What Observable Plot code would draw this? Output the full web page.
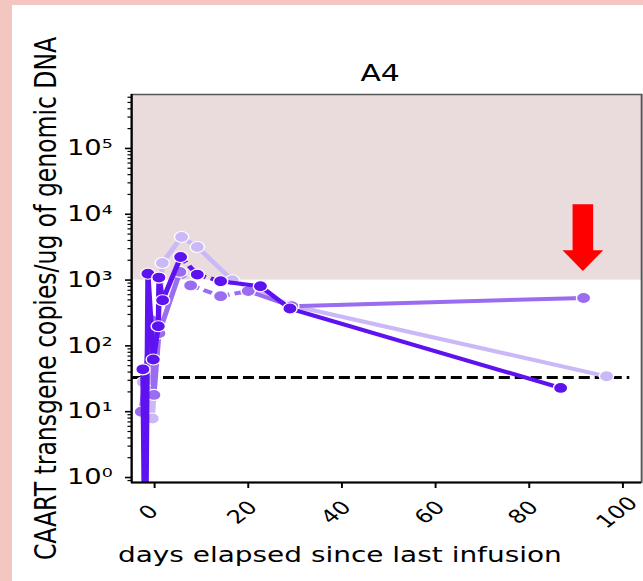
<!DOCTYPE html>
<html><head><meta charset="utf-8">
<script src="https://cdn.jsdelivr.net/npm/d3@7"></script>
<script src="https://cdn.jsdelivr.net/npm/@observablehq/plot@0.6"></script>
<style>
html,body{margin:0;padding:0;background:#f3c6c2;width:643px;height:581px;overflow:hidden;}
#wrap{position:absolute;left:12px;top:5px;width:631px;height:576px;background:#ffffff;}
#wrap svg{display:block;}
</style></head><body><div id="wrap"></div>
<script>
const title = "A4";
const xLabel = "days elapsed since last infusion";
const yLabel = "CAART transgene copies/ug of genomic DNA";
const xTicks = [0, 20, 40, 60, 80, 100];
const yTicks = [1, 10, 100, 1000, 10000, 100000];
const yTickLabels = ["10⁰", "10¹", "10²", "10³", "10⁴", "10⁵"];

// three series; 0.01 = below detection (falls off the axis)
const darkDays   = [-2.5, -2.0, -1.43, -0.28, 0.79, 0.92, 1.71, 5.56, 9.12, 14.1, 22.6, 28.9, 86.7];
const darkCopies = [44, 0.01, 1250, 62, 199, 1090, 493, 2240, 1210, 960, 805, 369, 23];
const darkDashed = [0, 0, 0, 0, 0, 0, 0, 1, 1, 0, 0, 0];

const mediumDays   = [-2.84, -0.7, -0.15, 0.92, 5.4, 7.7, 14.1, 20.0, 29.3, 91.6];
const mediumCopies = [10, 245, 18, 155, 1330, 830, 570, 680, 400, 535];
const mediumDashed = [0, 0, 0, 0, 1, 1, 1, 0, 0];

const lightDays   = [-2.41, -0.7, -0.49, 1.65, 5.77, 9.12, 16.6, 29.06, 96.5];
const lightCopies = [28, 30, 7.9, 1820, 4520, 3185, 993, 415, 34.5];
const lightDashed = [0, 0, 0, 0, 0, 0, 0, 0];

const detectionLimit = 33;
const shadeFrom = 1000;
const lodDays = [-4.9, 101.5];

// red arrow annotation (data coordinates)
const arrowDays   = [89.25, 93.65, 93.65, 95.8, 91.45, 87.1, 89.25, 89.25];
const arrowCopies = [14200, 14200, 2840, 2840, 1375, 2840, 2840, 14200];

const xDomain = [-4.9, 104];
const yDomain = [0.84, 6.6e5];

const colors = {dark: "#5e12f0", medium: "#9a6cf0", light: "#cbb9f7"};

// the reference picture is stretched horizontally; draw narrower and stretch the SVG
const stretch = 1.3;
const outW = 631, outH = 576;
const W = outW / stretch;

function segments(days, vals, dashed) {
  const out = [];
  for (let i = 0; i < days.length - 1; i++) {
    out.push({x1: days[i], y1: vals[i], x2: days[i + 1], y2: vals[i + 1], dash: dashed[i]});
  }
  return out;
}
function points(days, vals) {
  return days.map((d, i) => ({x: d, y: vals[i]}));
}
const minor = [];
for (let e = -1; e <= 5; e++) for (let k = 2; k <= 9; k++) {
  const v = k * Math.pow(10, e);
  if (v > yDomain[0] && v < yDomain[1]) minor.push(v);
}

const series = [
  ["light", lightDays, lightCopies, lightDashed],
  ["medium", mediumDays, mediumCopies, mediumDashed],
  ["dark", darkDays, darkCopies, darkDashed]
];
const seriesMarks = [];
for (const [name, days, vals, dashed] of series) {
  const segs = segments(days, vals, dashed);
  seriesMarks.push(
    Plot.link(segs.filter(s => !s.dash), {x1: "x1", y1: "y1", x2: "x2", y2: "y2", stroke: colors[name], strokeWidth: 4, strokeLinecap: "round", strokeLinejoin: "round", clip: true}),
    Plot.link(segs.filter(s => s.dash), {x1: "x1", y1: "y1", x2: "x2", y2: "y2", stroke: colors[name], strokeWidth: 4, strokeDasharray: "7,4", clip: true}),
    Plot.dot(points(days, vals), {x: "x", y: "y", r: 5.5, fill: colors[name], stroke: "white", strokeWidth: 1.1, clip: true})
  );
}

const arrowPts = arrowDays.map((d, i) => ({x: d, y: arrowCopies[i]}));

const chart = Plot.plot({
  width: W,
  height: outH,
  marginLeft: 119 / stretch,
  marginRight: 2 / stretch,
  marginTop: 89,
  marginBottom: 99,
  style: {fontFamily: "DejaVu Sans", color: "black", background: "transparent"},
  x: {domain: xDomain},
  y: {type: "log", domain: yDomain},
  marks: [
    Plot.rect([0], {x1: () => xDomain[0], x2: () => xDomain[1], y1: () => shadeFrom, y2: () => yDomain[1], fill: "#eadcdc"}),
    Plot.frame({stroke: "#555555", strokeWidth: 1.5}),
    Plot.ruleY([detectionLimit], {x1: () => lodDays[0], x2: () => lodDays[1], stroke: "black", strokeWidth: 3, strokeDasharray: "8.5,3.8"}),
    ...seriesMarks,
    Plot.line(arrowPts, {x: "x", y: "y", fill: "#ff0000", stroke: "none"}),
    Plot.ruleX([xDomain[0]], {stroke: "black", strokeWidth: 1.6}),
    Plot.ruleY([yDomain[0]], {stroke: "black", strokeWidth: 2}),
    Plot.axisX({ticks: xTicks, tickSize: 6, tickFormat: () => "", label: null, strokeWidth: 1.5}),
    Plot.axisX({ticks: xTicks, tickSize: 0, tickRotate: -45, tickPadding: 30, textAnchor: "middle", lineAnchor: "middle", dx: -4.5, fontSize: 18.5, label: null}),
    Plot.axisY({ticks: yTicks, tickFormat: d => yTickLabels[yTicks.indexOf(d)], tickSize: 4.6, tickPadding: 10, fontSize: 21, label: null, strokeWidth: 1.6}),
    Plot.axisY({ticks: minor, tickFormat: () => "", tickSize: 2.7, label: null, strokeWidth: 1.2}),
    Plot.text([title], {text: d => d, frameAnchor: "top", dx: -5, dy: -30, fontSize: 23}),
    Plot.text([xLabel], {text: d => d, frameAnchor: "bottom", dx: -36, dy: 79, fontSize: 21.5}),
    Plot.text([yLabel], {text: d => d, frameAnchor: "left", textAnchor: "middle", rotate: -90, dx: -66, dy: 10, fontSize: 23.5})
  ]
});
chart.setAttribute("width", outW);
chart.setAttribute("height", outH);
chart.setAttribute("preserveAspectRatio", "none");
chart.style.width = outW + "px";
chart.style.height = outH + "px";
chart.style.maxWidth = "none";
document.getElementById("wrap").appendChild(chart);
</script>
</body></html>
